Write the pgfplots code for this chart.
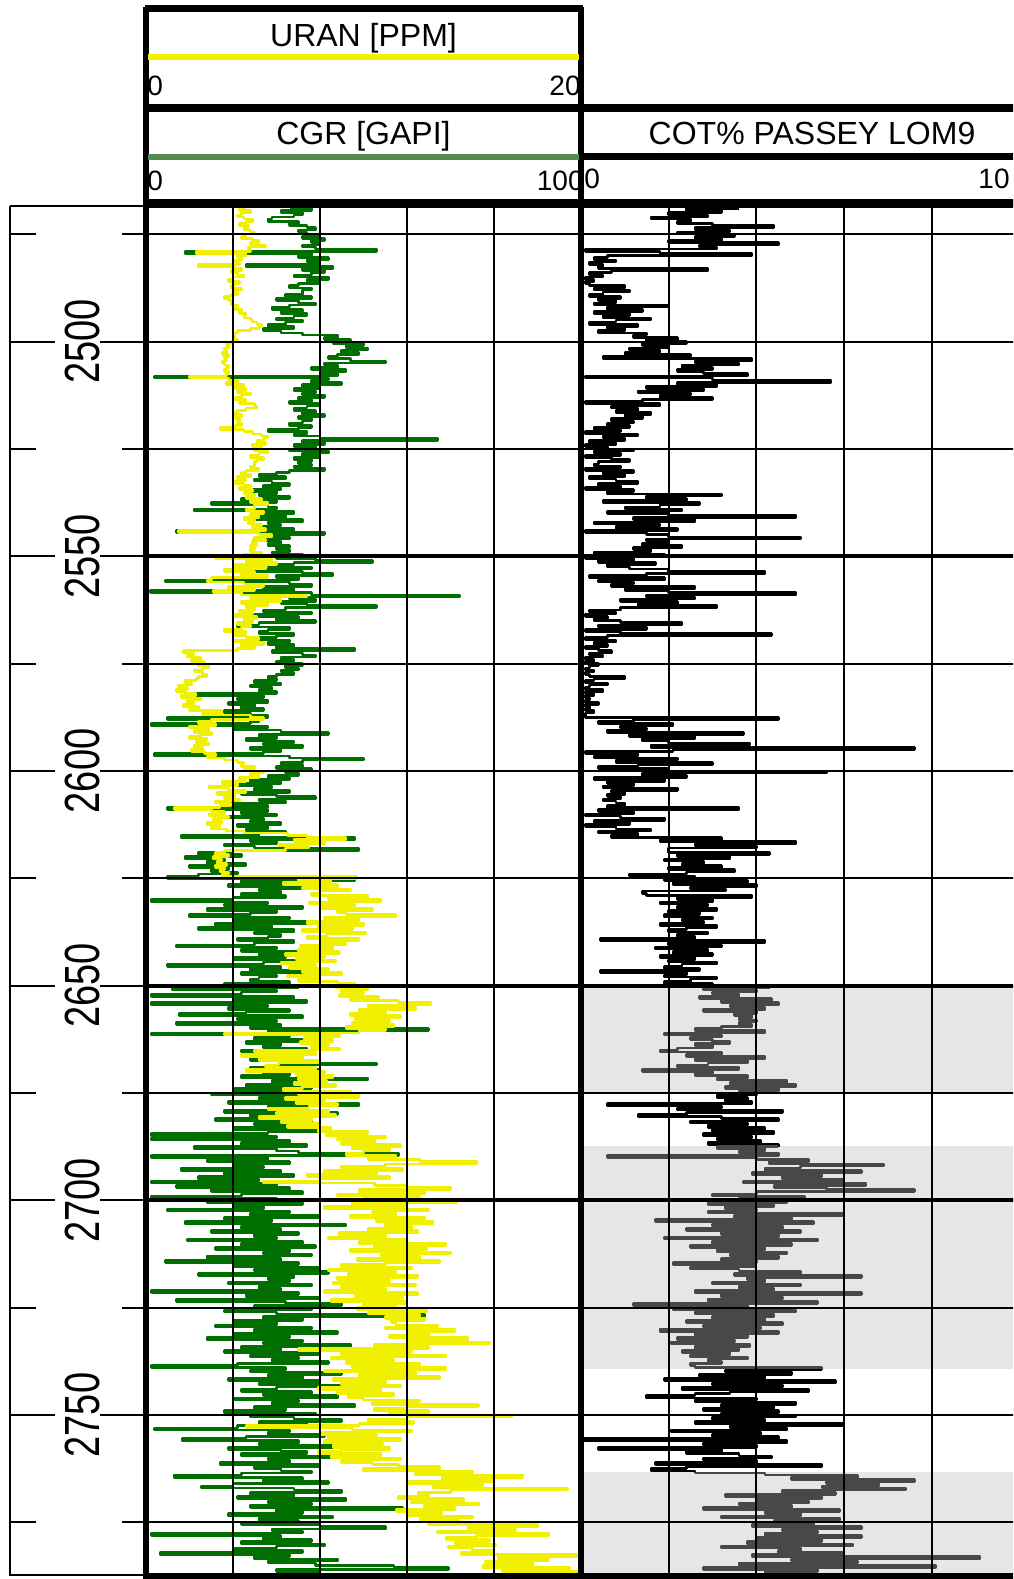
\documentclass[border=0pt]{standalone}
\usepackage{pgfplots}
\pgfplotsset{compat=1.18}
\usepackage{pgfplotstable}
\usepackage{graphicx}
\usepackage{fontspec}
\setmainfont{Liberation Sans}

\definecolor{cgrgreen}{RGB}{0,110,0}
\definecolor{uranyellow}{RGB}{240,240,0}
\definecolor{headgreen}{RGB}{84,139,84}
\definecolor{bandgrey}{RGB}{230,230,230}
\definecolor{cotgrey}{RGB}{72,72,72}

\newcommand{\titlefont}{\fontsize{16}{19}\selectfont}
\newcommand{\numfont}{\fontsize{14}{16}\selectfont}
\newcommand{\depthfont}{\fontsize{19}{22}\selectfont}

% d = depth [m], g = CGR [GAPI], u = URAN [PPM], c = COT% Passey LOM9
\pgfplotstableread{
d g u c
2469.0 33 4.6 3.6
2469.5 38 4.3 2.4
2470.0 31 4.8 3.2
2470.5 36 4.4 2.0
2471.0 34 4.2 2.9
2471.5 29 4.5 1.6
2472.0 28 4.9 2.5
2472.5 35 4.6 2.2
2473.0 33 4.3 3.0
2473.5 37 4.7 4.4
2474.0 39 4.5 2.6
2474.5 35 4.8 3.4
2475.0 37 5.0 2.2
2475.5 40 4.6 3.5
2476.0 36 4.4 2.6
2476.5 41 4.9 3.2
2477.0 38 5.2 2.0
2477.5 40 4.8 4.5
2478.0 36 5.5 2.7
2478.5 39 4.7 3.1
2479.0 53 4.8 0.1
2479.5 9 2.3 1.8
2480.0 38 4.6 3.9
2480.5 35 4.2 0.6
2481.0 42 4.4 0.3
2481.5 37 4.0 0.8
2482.0 40 4.3 0.2
2482.5 23 2.4 0.5
2483.0 43 4.1 0.4
2483.5 36 4.4 2.9
2484.0 41 3.9 0.7
2484.5 38 4.2 0.2
2485.0 34 4.5 0.5
2485.5 42 4.0 0.1
2486.0 37 3.8 0.3
2486.5 40 4.3 0.1
2487.0 35 4.1 0.2
2487.5 33 3.9 1.0
2488.0 38 4.4 0.3
2488.5 36 4.0 1.1
2489.0 36 4.2 0.5
2489.5 32 3.9 0.2
2490.0 38 3.6 0.9
2490.5 30 3.8 0.4
2491.0 35 4.0 0.8
2491.5 39 3.9 0.3
2492.0 33 4.2 2.0
2492.5 29 4.1 0.6
2493.0 36 4.4 1.4
2493.5 31 4.3 0.3
2494.0 37 4.6 1.1
2494.5 34 4.5 0.5
2495.0 30 4.8 1.6
2495.5 36 4.9 0.8
2496.0 32 5.1 0.2
2496.5 28 5.3 1.3
2497.0 34 5.2 0.6
2497.5 27 4.8 1.0
2498.0 31 4.2 0.4
2498.5 36 4.0 1.5
2499.0 44 4.1 1.2
2499.5 41 4.0 2.2
2500.0 47 4.2 1.5
2500.5 43 3.9 2.4
2501.0 50 3.7 1.4
2501.5 46 3.8 2.0
2502.0 51 3.6 1.1
2502.5 45 3.7 1.8
2503.0 49 3.5 1.0
2503.5 44 3.8 2.5
2504.0 42 3.6 0.5
2504.5 47 3.7 3.9
2505.0 55 3.5 2.6
2505.5 41 3.6 3.6
2506.0 44 3.8 2.3
2506.5 38 3.7 3.0
2507.0 46 3.6 2.2
2507.5 40 3.8 2.8
2508.0 44 3.7 3.8
2508.5 2 2.0 0.1
2509.0 42 3.8 3.0
2509.5 38 4.2 5.7
2510.0 45 3.7 2.2
2510.5 36 4.5 3.1
2511.0 40 4.0 1.5
2511.5 34 4.6 2.8
2512.0 39 4.2 1.3
2512.5 36 4.8 2.5
2513.0 41 4.4 1.8
2513.5 35 4.1 3.0
2514.0 38 4.6 1.4
2514.5 33 4.3 0.1
2515.0 40 5.0 1.8
2515.5 37 5.1 0.7
2516.0 34 4.6 1.3
2516.5 39 4.2 0.8
2517.0 36 4.0 1.6
2517.5 41 4.4 1.0
2518.0 35 4.1 1.4
2518.5 38 4.3 0.7
2519.0 36 4.2 1.2
2519.5 33 4.4 0.6
2520.0 38 4.1 1.1
2520.5 35 3.4 0.3
2521.0 28 4.5 0.9
2521.5 37 4.9 0.1
2522.0 34 5.3 1.3
2522.5 40 5.6 0.5
2523.0 67 5.4 1.0
2523.5 36 5.1 0.2
2524.0 41 5.5 0.8
2524.5 34 4.9 0.1
2525.0 39 5.3 0.6
2525.5 33 5.0 1.2
2526.0 42 5.6 0.3
2526.5 36 5.2 0.9
2527.0 40 4.8 0.1
2527.5 34 5.4 0.7
2528.0 38 5.1 1.1
2528.5 35 5.0 0.4
2529.0 38 5.0 0.3
2529.5 34 4.8 0.9
2530.0 41 5.2 0.1
2530.5 33 4.6 1.2
2531.0 30 4.4 0.5
2531.5 26 4.8 1.0
2532.0 32 4.2 0.2
2532.5 25 4.6 0.8
2533.0 29 4.0 1.3
2533.5 33 4.5 0.4
2534.0 27 4.8 0.9
2534.5 31 4.3 0.1
2535.0 24 4.9 1.2
2535.5 30 4.5 0.6
2536.0 26 5.0 3.2
2536.5 33 4.6 1.5
2537.0 22 5.3 2.4
2537.5 30 4.8 0.5
2538.0 15 5.6 2.7
2538.5 28 5.0 1.8
2539.0 30 5.0 1.0
2539.5 11 4.6 2.3
2540.0 34 5.4 0.6
2540.5 26 4.8 2.0
2541.0 32 5.2 4.9
2541.5 25 4.5 1.2
2542.0 36 5.0 2.6
2542.5 28 4.7 0.3
2543.0 31 5.3 1.8
2543.5 27 4.9 0.8
2544.0 34 5.5 2.2
2544.5 7 1.5 0.1
2545.0 41 5.2 1.5
2545.5 29 5.8 2.0
2546.0 33 5.0 5.0
2546.5 25 5.5 1.5
2547.0 31 4.9 2.0
2547.5 28 5.1 1.4
2548.0 33 4.8 2.3
2548.5 30 5.0 1.2
2549.0 33 4.8 1.6
2549.5 29 5.3 0.3
2550.0 36 4.5 1.9
2550.5 30 3.2 0.1
2551.0 39 5.8 1.2
2551.5 52 4.6 0.4
2552.0 34 6.0 1.7
2552.5 28 4.0 0.6
2553.0 38 5.5 1.1
2553.5 24 3.6 2.0
2554.0 36 5.0 4.2
2554.5 43 4.4 1.5
2555.0 30 5.6 0.2
2555.5 35 3.0 1.9
2556.0 4.5 2.8 0.4
2556.5 33 4.5 1.2
2557.0 38 5.4 0.7
2557.5 27 3.8 2.6
2558.0 34 5.0 1.0
2558.5 1 3.1 2.0
2559.0 38 4.4 4.9
2559.5 72 7.4 1.5
2560.0 33 4.8 2.6
2560.5 39 6.2 0.9
2561.0 31 4.4 2.2
2561.5 37 5.6 1.3
2562.0 53 4.6 3.1
2562.5 32 5.0 0.9
2563.0 27 4.3 0.2
2563.5 38 4.9 0.8
2564.0 25 4.1 0.1
2564.5 35 5.1 0.6
2565.0 30 4.5 0.3
2565.5 39 4.9 0.9
2566.0 26 4.2 2.3
2566.5 21 4.8 0.4
2567.0 33 4.4 1.5
2567.5 28 3.6 0.1
2568.0 26 4.6 0.9
2568.5 34 4.1 4.35
2569.0 30 4.6 0.6
2569.5 26 5.2 0.1
2570.0 33 4.0 0.8
2570.5 28 5.4 0.3
2571.0 34 4.4 0.6
2571.5 30 5.0 0.1
2572.0 48 4.2 0.4
2572.5 29 1.7 0.7
2573.0 36 2.2 0.2
2573.5 39 1.9 0.5
2574.0 31 2.5 0.1
2574.5 34 2.1 0.3
2575.0 30 2.7 0.1
2575.5 36 2.4 0.4
2576.0 32 2.9 0.2
2576.5 35 2.6 0.1
2577.0 31 2.2 0.3
2577.5 34 2.6 0.1
2578.0 30 2.8 0.2
2578.5 28 2.4 1.0
2579.0 30 2.3 0.3
2579.5 25 1.8 0.1
2580.0 31 2.1 0.6
2580.5 24 1.5 0.2
2581.0 29 1.9 0.1
2581.5 26 1.4 0.5
2582.0 30 1.8 0.1
2582.5 11 2.3 0.3
2583.0 27 1.6 0.1
2583.5 21 2.5 0.2
2584.0 28 1.9 0.1
2584.5 19 2.2 0.4
2585.0 25 1.7 0.1
2585.5 22 2.4 0.2
2586.0 27 2.0 0.1
2586.5 18 3.5 0.3
2587.0 24 2.6 0.1
2587.5 28 4.8 0.1
2588.0 5 5.4 4.5
2588.5 26 3.0 1.2
2589.0 24 2.4 0.4
2589.5 1.3 3.2 2.1
2590.0 28 2.0 0.9
2590.5 20 2.9 1.5
2591.0 31 2.2 0.6
2591.5 42 3.0 3.7
2592.0 26 2.5 1.1
2592.5 30 2.0 2.6
2593.0 23 2.8 1.4
2593.5 34 2.3 2.0
2594.0 27 2.9 3.85
2594.5 36 2.2 1.6
2595.0 24 2.6 7.6
2595.5 31 2.1 2.1
2596.0 27 2.7 0.1
2596.5 2 3.2 1.3
2597.0 33 2.8 0.3
2597.5 50 3.6 2.2
2598.0 36 4.2 0.8
2598.5 31 4.5 3.0
2599.0 36 4.4 1.3
2599.5 30 5.0 0.4
2600.0 38 4.5 2.0
2600.5 32 5.4 5.6
2601.0 35 4.8 1.4
2601.5 28 5.2 2.4
2602.0 33 4.3 0.3
2602.5 24 4.6 1.9
2603.0 31 3.5 0.6
2603.5 20 4.2 1.2
2604.0 29 2.9 0.5
2604.5 25 3.8 2.2
2605.0 33 4.6 0.7
2605.5 22 3.3 1.0
2606.0 30 4.1 0.6
2606.5 39 3.6 0.9
2607.0 26 4.3 0.5
2607.5 32 3.2 0.8
2608.0 19 3.9 1.0
2608.5 28 3.4 0.6
2609.0 5 1.3 3.6
2609.5 28 3.0 0.4
2610.0 22 3.6 1.2
2610.5 30 2.9 0.1
2611.0 19 3.8 0.9
2611.5 27 3.1 1.9
2612.0 24 3.5 0.3
2612.5 31 2.8 1.1
2613.0 21 3.4 0.1
2613.5 28 3.0 0.8
2614.0 23 3.7 1.6
2614.5 32 4.5 0.4
2615.0 26 6.5 1.3
2615.5 8 7.4 0.7
2616.0 48 9.2 3.2
2616.5 24 6.8 1.8
2617.0 30 8.2 4.9
2617.5 18 6.1 2.6
2618.0 25 7.5 4.0
2618.5 49 6.4 2.0
2619.0 20 3.6 2.0
2619.5 12 3.2 4.3
2620.0 22 3.8 2.2
2620.5 9 3.1 3.4
2621.0 18 3.5 1.9
2621.5 14 3.3 2.8
2622.0 23 3.7 2.3
2622.5 10 3.2 3.2
2623.0 19 3.6 2.0
2623.5 15 3.4 3.5
2624.0 21 3.8 2.4
2624.5 12 3.5 1.1
2625.0 5 9.7 2.6
2625.5 48 7.0 1.9
2626.0 22 8.5 3.8
2626.5 34 6.3 2.1
2627.0 19 8.8 4.0
2627.5 37 7.2 2.5
2628.0 26 9.4 3.3
2628.5 31 8.0 1.4
2629.0 22 7.6 1.5
2629.5 32 10.2 3.9
2630.0 20 8.4 2.2
2630.5 1.3 10.8 3.0
2631.0 28 7.5 1.8
2631.5 18 9.6 2.9
2632.0 36 8.0 2.2
2632.5 14 10.4 3.1
2633.0 30 8.8 2.0
2633.5 24 9.2 2.7
2634.0 10 11.5 1.9
2634.5 33 8.2 3.0
2635.0 20 9.8 2.3
2635.5 37 7.4 2.8
2636.0 16 10.0 1.8
2636.5 29 7.9 3.1
2637.0 12 9.5 2.4
2637.5 34 7.2 2.0
2638.0 25 10.1 2.9
2638.5 31 8.3 2.2
2639.0 28 7.4 2.6
2639.5 21 9.8 0.45
2640.0 34 8.0 4.2
2640.5 25 9.2 2.0
2641.0 7 7.1 3.2
2641.5 30 8.6 1.7
2642.0 22 7.0 2.9
2642.5 36 8.9 2.1
2643.0 26 6.4 3.0
2643.5 32 8.2 1.8
2644.0 20 6.9 2.6
2644.5 35 8.7 2.0
2645.0 27 6.2 3.1
2645.5 5 7.8 2.3
2646.0 31 6.6 1.9
2646.5 24 8.4 2.7
2647.0 37 7.2 0.45
2647.5 22 9.0 2.4
2648.0 30 6.5 1.9
2648.5 26 8.0 3.1
2649.0 24 7.0 2.5
2649.5 33 8.8 1.9
2650.0 18 9.6 3.0
2650.5 35 8.7 4.3
2651.0 6 10.2 2.8
2651.5 30 9.0 4.0
2652.0 22 10.0 3.0
2652.5 1.3 8.9 3.6
2653.0 34 10.7 2.7
2653.5 20 9.4 4.35
2654.0 37 11.6 3.2
2654.5 1.3 13.1 4.5
2655.0 28 10.2 3.4
2655.5 19 12.4 4.2
2656.0 33 9.8 2.8
2656.5 23 11.0 4.0
2657.0 7.6 9.4 3.5
2657.5 36 11.7 3.9
2658.0 21 9.6 3.6
2658.5 30 11.2 4.0
2659.0 7 9.5 3.6
2659.5 31 11.4 3.9
2660.0 24 9.2 3.2
2660.5 65 11.0 2.6
2661.0 28 9.8 4.2
2661.5 1.3 3.6 1.9
2662.0 33 8.9 3.2
2662.5 25 7.3 2.5
2663.0 36 8.6 3.0
2663.5 23 7.1 3.4
2664.0 31 8.4 2.6
2664.5 27 7.6 3.0
2665.0 37 8.9 2.2
2665.5 22 5.0 1.8
2666.0 34 7.8 3.2
2666.5 26 4.4 2.4
2667.0 30 7.2 4.2
2667.5 24 5.2 2.6
2668.0 35 8.0 3.8
2668.5 53 6.1 2.9
2669.0 30 5.5 2.2
2669.5 24 7.8 3.6
2670.0 40 4.6 1.4
2670.5 27 8.2 3.0
2671.0 33 6.9 2.6
2671.5 22 8.6 3.8
2672.0 51 7.0 3.1
2672.5 29 8.3 4.7
2673.0 35 6.8 3.4
2673.5 23 8.7 4.9
2674.0 38 7.2 3.3
2674.5 20 6.3 4.5
2675.0 32 9.4 3.6
2675.5 15 7.0 4.0
2676.0 42 9.8 3.1
2676.5 26 6.4 3.8
2677.0 36 8.2 3.3
2677.5 19 6.9 3.9
2678.0 49 8.8 0.6
2678.5 28 7.5 3.2
2679.0 35 5.6 2.2
2679.5 18 8.4 4.6
2680.0 44 6.0 2.4
2680.5 24 8.7 1.3
2681.0 31 5.2 3.2
2681.5 16 7.6 4.5
2682.0 38 6.2 2.5
2682.5 25 8.0 3.8
2683.0 34 6.5 2.9
2683.5 20 8.5 4.2
2684.0 40 7.9 3.0
2684.5 28 10.2 4.4
2685.0 1.3 8.3 2.8
2685.5 30 11.0 3.9
2686.0 1.3 8.8 3.1
2686.5 33 10.5 4.1
2687.0 22 9.0 2.9
2687.5 37 11.7 4.5
2688.0 11 9.5 3.1
2688.5 30 11.2 4.2
2689.0 35 10.0 3.6
2689.5 58 9.2 4.5
2690.0 1.3 11.5 0.6
2690.5 28 10.2 4.0
2691.0 14 12.6 5.2
2691.5 33 15.2 4.3
2692.0 20 11.0 6.9
2692.5 27 9.0 5.0
2693.0 8 11.8 4.2
2693.5 31 8.2 6.4
2694.0 18 10.6 3.9
2694.5 34 7.4 5.5
2695.0 12 11.2 4.6
2695.5 26 8.0 6.0
2696.0 1.3 5.4 3.7
2696.5 30 10.5 6.5
2697.0 7 12.0 4.4
2697.5 33 14.0 5.6
2698.0 15 9.8 7.6
2698.5 36 12.8 4.0
2699.0 22 8.8 3.0
2699.5 1.3 12.6 5.1
2700.0 30 10.0 3.6
2700.5 14 14.3 4.7
2701.0 36 9.5 2.9
2701.5 20 12.0 4.4
2702.0 27 8.2 3.3
2702.5 5 13.0 4.0
2703.0 33 10.4 2.9
2703.5 24 11.5 6.0
2704.0 40 9.4 3.5
2704.5 18 12.8 4.8
2705.0 29 10.6 1.7
2705.5 9 13.2 5.3
2706.0 46 11.0 3.0
2706.5 22 12.2 4.6
2707.0 31 10.2 2.4
2707.5 15 12.5 5.0
2708.0 35 8.9 3.2
2708.5 25 11.0 4.5
2709.0 30 8.4 1.9
2709.5 9.5 12.0 5.4
2710.0 36 9.8 3.0
2710.5 22 13.8 4.8
2711.0 39 10.5 2.5
2711.5 16 12.9 4.2
2712.0 33 9.4 3.1
2712.5 27 14.0 4.7
2713.0 38 10.8 3.4
2713.5 14 12.6 4.5
2714.0 31 9.7 3.2
2714.5 4.5 13.5 4.0
2715.0 35 11.0 2.1
2715.5 20 9.0 3.95
2716.0 40 12.2 2.5
2716.5 25 8.4 3.6
2717.0 42 11.5 5.0
2717.5 12 9.3 3.5
2718.0 34 12.5 6.4
2718.5 28 8.8 3.8
2719.0 33 11.2 4.2
2719.5 19 8.6 3.0
2720.0 38 12.4 5.0
2720.5 26 9.0 3.6
2721.0 31 11.0 4.4
2721.5 1.3 8.2 2.6
2722.0 35 12.5 6.4
2722.5 23 9.6 3.2
2723.0 40 11.8 4.6
2723.5 7 8.5 2.9
2724.0 32 12.0 5.4
2724.5 45 10.0 1.2
2725.0 25 11.5 3.8
2725.5 38 9.7 2.1
2726.0 18 12.9 4.9
2726.5 30 10.2 2.6
2727.0 64 12.6 4.4
2727.5 27 11.0 3.0
2728.0 36 12.8 4.2
2728.5 20 11.3 2.4
2729.0 30 11.5 4.6
2729.5 16 13.4 2.8
2730.0 38 11.0 4.1
2730.5 25 14.2 1.8
2731.0 44 12.1 4.5
2731.5 20 13.0 2.6
2732.0 33 11.2 3.8
2732.5 14 14.8 2.2
2733.0 36 12.0 3.5
2733.5 27 15.8 2.05
2734.0 47 10.5 3.85
2734.5 22 13.0 2.6
2735.0 31 7.0 3.6
2735.5 18 12.2 2.3
2736.0 40 9.0 3.4
2736.5 24 13.8 2.5
2737.0 35 8.5 3.8
2737.5 29 11.4 2.9
2738.0 42 9.2 3.2
2738.5 21 12.6 2.5
2739.0 1.3 9.5 2.6
2739.5 32 13.8 5.5
2740.0 24 8.2 3.3
2740.5 45 12.4 4.8
2741.0 28 9.8 2.7
2741.5 36 13.5 4.2
2742.0 19 8.6 1.9
2742.5 40 11.0 5.8
2743.0 26 9.0 3.0
2743.5 53 11.7 4.6
2744.0 30 7.9 2.3
2744.5 22 10.8 5.2
2745.0 38 8.8 3.4
2745.5 27 11.4 2.6
2746.0 44 9.3 1.5
2746.5 20 10.0 4.0
2747.0 35 12.6 2.6
2747.5 29 10.4 4.9
2748.0 48 15.3 3.2
2748.5 25 12.0 4.4
2749.0 32 10.5 2.8
2749.5 18 13.0 4.5
2750.0 39 11.2 3.2
2750.5 24 16.8 4.9
2751.0 34 12.0 3.0
2751.5 45 10.2 4.2
2752.0 26 12.3 2.6
2752.5 37 9.8 6.0
2753.0 21 4.6 3.4
2753.5 2 9.5 4.7
2754.0 33 12.2 2.05
2754.5 28 8.0 4.1
2755.0 41 10.6 3.0
2755.5 23 8.4 4.5
2756.0 8.3 11.7 0.06
2756.5 35 8.2 4.7
2757.0 26 10.9 2.8
2757.5 43 8.6 4.0
2758.0 19 11.2 0.4
2758.5 31 9.0 3.2
2759.0 37 7.9 2.4
2759.5 22 10.8 3.6
2760.0 44 8.5 4.35
2760.5 28 11.7 2.8
2761.0 33 9.0 4.0
2761.5 17 10.4 1.7
2762.0 40 11.6 5.5
2762.5 25 13.5 2.4
2763.0 31 10.0 1.6
2763.5 38 15.0 2.6
2764.0 22 12.4 4.2
2764.5 6.4 17.3 6.3
2765.0 36 13.6 4.8
2765.5 27 16.0 7.6
2766.0 42 12.0 5.6
2766.5 20 15.5 6.8
2767.0 12.7 13.2 5.5
2767.5 34 19.4 7.4
2768.0 45 14.0 4.6
2768.5 24 12.5 5.8
2769.0 34 13.0 3.3
2769.5 21 11.6 5.5
2770.0 46 14.6 4.0
2770.5 28 12.2 5.2
2771.0 38 15.3 3.6
2771.5 24 12.8 4.8
2772.0 59 14.2 2.8
2772.5 30 11.5 5.9
2773.0 36 13.6 4.2
2773.5 19 12.0 5.0
2774.0 43 15.0 3.2
2774.5 26 12.6 5.9
2775.0 35 14.4 4.4
2775.5 22 13.0 5.3
2776.0 40 18.0 3.9
2776.5 55 14.8 6.4
2777.0 29 17.0 4.6
2777.5 36 13.4 5.4
2778.0 1.3 18.5 4.2
2778.5 31 15.2 6.4
2779.0 27 13.8 4.0
2779.5 38 15.8 5.5
2780.0 22 14.2 3.8
2780.5 41 16.1 6.2
2781.0 30 13.9 3.2
2781.5 20 15.0 5.0
2782.0 36 16.0 4.5
2782.5 3.2 14.5 6.0
2783.0 33 20.0 3.9
2783.5 25 16.2 9.1
2784.0 44 18.5 4.8
2784.5 28 15.6 6.3
2785.0 39 17.8 3.6
2785.5 57 15.5 8.1
2786.0 69.5 19.5 2.8
2786.5 30 16.4 5.4
2787.0 40 20.0 4.2
2787.5 26 18.0 6.6
2788.0 35 19.0 3.5
2788.5 30 17.0 5.0
}\logdata

\pgfplotsset{
  trackaxis/.style={
    anchor=north west, scale only axis, height=686.5pt,
    ymin=2467.75, ymax=2787.5, y dir=reverse,
    ytick={2475,2500,2525,2550,2575,2600,2625,2650,2675,2700,2725,2750,2775},
    xticklabels={}, yticklabels={}, major tick length=0pt,
    grid=major, major grid style={line width=1pt, black},
    extra y ticks={2550,2650,2700}, extra y tick labels={},
    extra y tick style={grid=major, major grid style={line width=2pt, black}},
    axis line style={line width=3pt}, axis on top, clip=true},
  curve/.style={const plot, line width=1.3pt, line join=round, mark=none}
}

\begin{document}
\begin{tikzpicture}
\begin{scope}
\clip (0,0) rectangle (506.5pt,-789.5pt);

% ---------- depth track ----------
\begin{axis}[anchor=north west, at={(0pt,-101.5pt)}, scale only axis,
  width=73pt, height=686.5pt, xmin=0, xmax=146,
  ymin=2467.75, ymax=2787.5, y dir=reverse, hide axis, clip=false]
  \draw[line width=1pt] (axis cs:10,2468.45) -- (axis cs:146,2468.45);
  \draw[line width=1pt] (axis cs:10,2468.45) -- (axis cs:10,2787.5);
  \draw[line width=1pt] (axis cs:10,2787.2) -- (axis cs:146,2787.2);
  \pgfplotsinvokeforeach{2475,2525,2575,2625,2675,2725,2775}{
    \draw[line width=1pt] (axis cs:10,#1) -- (axis cs:36,#1);
    \draw[line width=1pt] (axis cs:122,#1) -- (axis cs:146,#1);
  }
  \pgfplotsinvokeforeach{2500,2550,2600,2650,2700,2750}{
    \draw[line width=1pt] (axis cs:10,#1) -- (axis cs:55,#1);
    \draw[line width=1pt] (axis cs:100,#1) -- (axis cs:146,#1);
    \node[rotate=90, inner sep=0pt, font=\depthfont] at (axis cs:82,#1) {\scalebox{1}[1.3]{#1}};
  }
\end{axis}

% ---------- track 1: CGR + URAN ----------
\begin{axis}[trackaxis, at={(73pt,-101.5pt)}, width=217.5pt,
  xmin=0, xmax=100, xtick={20,40,60,80}]
  \addplot[curve, cgrgreen] table[x=g, y=d] {\logdata};
  \addplot[curve, uranyellow] table[x expr=5*\thisrow{u}, y=d] {\logdata};
\end{axis}

% ---------- track 2: COT ----------
\begin{axis}[trackaxis, at={(290.5pt,-101.5pt)}, width=219.25pt,
  xmin=0, xmax=10, xtick={2,4,6,8}]
  \addplot[fill=bandgrey, draw=none] coordinates {(0,2650) (10,2650) (10,2675) (0,2675)} -- cycle;
  \addplot[fill=bandgrey, draw=none] coordinates {(0,2687.3) (10,2687.3) (10,2739.4) (0,2739.4)} -- cycle;
  \addplot[fill=bandgrey, draw=none] coordinates {(0,2763.3) (10,2763.3) (10,2790) (0,2790)} -- cycle;
  \addplot[curve, black, restrict y to domain=2460:2650] table[x=c, y=d] {\logdata};
  \addplot[curve, cotgrey, restrict y to domain=2650:2675] table[x=c, y=d] {\logdata};
  \addplot[curve, black, restrict y to domain=2675:2687.5] table[x=c, y=d] {\logdata};
  \addplot[curve, cotgrey, restrict y to domain=2687.5:2739.5] table[x=c, y=d] {\logdata};
  \addplot[curve, black, restrict y to domain=2739.5:2763.5] table[x=c, y=d] {\logdata};
  \addplot[curve, cotgrey, restrict y to domain=2763.5:2790] table[x=c, y=d] {\logdata};
\end{axis}

% ---------- headers ----------
\begin{scope}[x=0.5pt, y=-0.5pt]
  \draw[line width=3.5pt] (144.5,8.5) -- (582.5,8.5);
  \draw[line width=3.2pt] (146,7) -- (146,203);
  \draw[line width=3.2pt] (581,7) -- (581,203);
  \draw[line width=4pt] (144.5,107.5) -- (1030,107.5);
  \draw[line width=3.5pt] (581,156.5) -- (1030,156.5);
  \draw[line width=4.5pt] (144.5,203) -- (1030,203);
  \draw[uranyellow, line width=3pt] (148,57) -- (579,57);
  \draw[headgreen, line width=3pt] (148,157) -- (579,157);
  \node[anchor=base, inner sep=0pt, font=\titlefont] at (363.5,46.5) {URAN [PPM]};
  \node[anchor=base, inner sep=0pt, font=\titlefont] at (363.5,144.5) {CGR [GAPI]};
  \node[anchor=base, inner sep=0pt, font=\titlefont] at (812,144.5) {COT\% PASSEY LOM9};
  \node[anchor=base west, inner sep=0pt, font=\numfont] at (147,95) {0};
  \node[anchor=base east, inner sep=0pt, font=\numfont] at (581,95) {20};
  \node[anchor=base west, inner sep=0pt, font=\numfont] at (147,190.5) {0};
  \node[anchor=base east, inner sep=0pt, font=\numfont] at (584,190.5) {100};
  \node[anchor=base west, inner sep=0pt, font=\numfont] at (584,188.5) {0};
  \node[anchor=base east, inner sep=0pt, font=\numfont] at (1010,188.5) {10};
\end{scope}
\end{scope}

\pgfresetboundingbox
\path[use as bounding box] (0,0) rectangle (506.5pt,-789.5pt);
\end{tikzpicture}
\end{document}
